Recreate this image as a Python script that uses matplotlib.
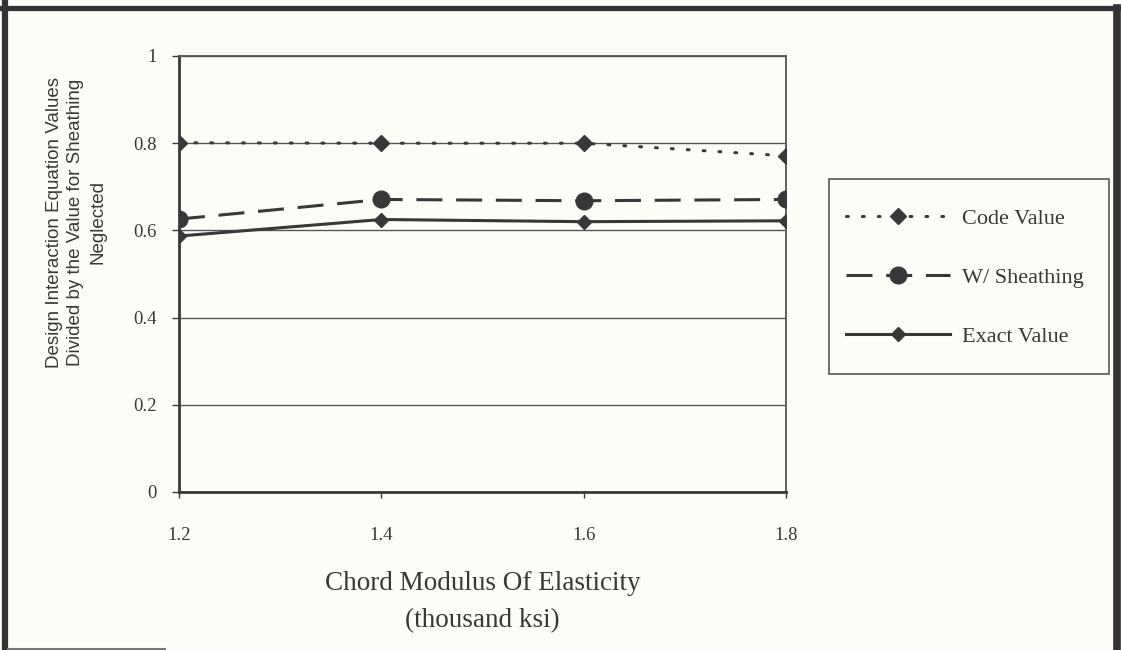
import matplotlib
matplotlib.use("Agg")
from matplotlib import pyplot as plt
from matplotlib.lines import Line2D
from matplotlib.patches import Rectangle

# data
modulus = [1.2, 1.4, 1.6, 1.8]
code_value = [0.801, 0.800, 0.800, 0.771]
w_sheathing = [0.626, 0.671, 0.668, 0.671]
exact_value = [0.587, 0.625, 0.620, 0.622]
y_ticks = [0, 0.2, 0.4, 0.6, 0.8, 1]
y_tick_labels = ['0', '0.2', '0.4', '0.6', '0.8', '1']
x_tick_labels = ['1.2', '1.4', '1.6', '1.8']

ink = '#383838'
paper = '#fdfdf8'
serif = ['Liberation Serif', 'DejaVu Serif']
narrow = ['Liberation Sans', 'DejaVu Sans']

W, H = 1121, 650
fig = plt.figure(figsize=(W / 100, H / 100), dpi=100, facecolor=paper)
ax = fig.add_axes([179 / W, 1 - 492 / H, (786 - 179) / W, (492 - 56) / H])
ax.set_facecolor(paper)

ax.plot(modulus, code_value, color=ink, lw=2.2, linestyle=(0, (0.6, 4.6)),
        dash_capstyle='round', marker='D', ms=8, mec=ink, mfc=ink,
        label='Code Value', zorder=3)
ax.plot(modulus, w_sheathing, color=ink, lw=2.2, linestyle=(0, (8.5, 4.5)),
        marker='o', ms=12, mec=ink, mfc=ink, label='W/ Sheathing', zorder=3)
ax.plot(modulus, exact_value, color=ink, lw=2.2, linestyle='-',
        marker='D', ms=7, mec=ink, mfc=ink, label='Exact Value', zorder=3)

ax.set_xlim(1.2, 1.8)
ax.set_ylim(0, 1)
ax.set_xticks(modulus)
ax.set_xticklabels(x_tick_labels, family=serif, fontsize=13.5, color=ink)
ax.set_yticks(y_ticks)
ax.set_yticklabels(y_tick_labels, family=serif, fontsize=13.5, color=ink)
ax.tick_params(axis='y', direction='out', length=5, width=1, color=ink, pad=11)
ax.tick_params(axis='x', direction='out', length=4, width=1, color=ink, pad=21)
ax.yaxis.grid(True, color='#555555', lw=1)
ax.set_axisbelow(True)
for side in ['left', 'bottom']:
    ax.spines[side].set_linewidth(2)
    ax.spines[side].set_color(ink)
for side in ['top', 'right']:
    ax.spines[side].set_linewidth(1.3)
    ax.spines[side].set_color('#555555')

ax.set_xlabel('Chord Modulus Of Elasticity\n(thousand ksi)', family=serif,
              fontsize=19.5, color=ink, labelpad=20, linespacing=1.6)

fig.text(76 / W, 1 - 222 / H,
         'Design Interaction Equation Values\nDivided by the Value for Sheathing\nNeglected',
         rotation=90, ha='center', va='center', multialignment='center',
         family=narrow, fontsize=13.5, color=ink, linespacing=1.38)

# legend box drawn separately so the entries can be placed freely
fig.add_artist(Rectangle((829 / W, 1 - 374 / H), (1109 - 829) / W, (374 - 179) / H,
                         transform=fig.transFigure, facecolor=paper,
                         edgecolor='#555555', lw=1.2, zorder=1))
leg = fig.legend(loc='upper left', bbox_to_anchor=(846 / W, 1 - 208 / H),
                 prop={'family': serif, 'size': 16}, frameon=False,
                 handlelength=4.7, handletextpad=0.5, labelspacing=1.74,
                 borderpad=0, borderaxespad=0)
leg.set_zorder(2)
for t in leg.get_texts():
    t.set_color(ink)

# page frame
fig.add_artist(Line2D([0, 1], [1 - 7.5 / H] * 2, transform=fig.transFigure,
                      color='#333333', lw=3.8))
fig.add_artist(Line2D([4.5 / W] * 2, [0, 1], transform=fig.transFigure,
                      color='#333333', lw=4.5))
fig.add_artist(Line2D([1117 / W] * 2, [0, 1 - 7.5 / H], transform=fig.transFigure,
                      color='#333333', lw=5.5))
fig.add_artist(Line2D([8 / W, 165 / W], [1.5 / H] * 2, transform=fig.transFigure,
                      color='#777777', lw=1.5))

fig.savefig('out.png', dpi=100, facecolor=paper)
